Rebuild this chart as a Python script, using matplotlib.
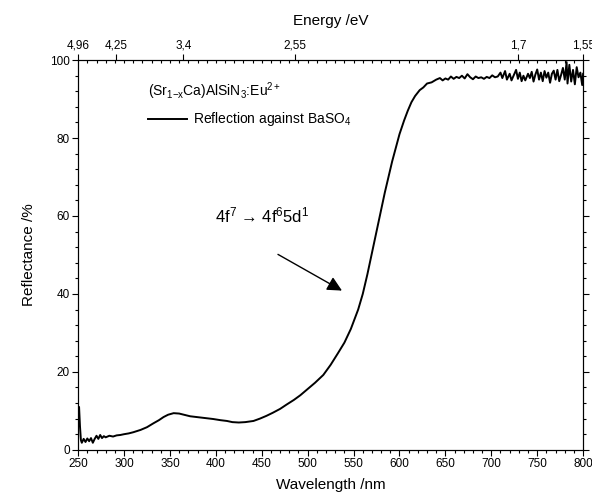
#/usr/bin/env python
'''
Reflectance spectrum of (Sr1-xCa)AlSiN3:Eu2+ against BaSO4
'''

import matplotlib
matplotlib.use('Agg')
import matplotlib.pyplot as plt
from matplotlib.ticker import MultipleLocator, FixedLocator

plt.rcParams['font.family'] = ['Liberation Sans', 'DejaVu Sans']
plt.rcParams['mathtext.fontset'] = 'custom'
plt.rcParams['mathtext.rm'] = 'Liberation Sans'
plt.rcParams['mathtext.it'] = 'Liberation Sans'

# wavelength /nm and reflectance /%
wavelength = [250, 251, 252, 253, 254, 256, 258, 260, 262, 264, 266, 268, 270, 272, 274,
              276, 278, 280, 284, 288, 292, 296, 300,
              305, 310, 318, 325, 332, 338, 343, 348, 354, 360, 365, 372, 383, 390, 397,
              405, 412, 418, 425, 432, 441, 448, 455, 462, 470, 477, 485, 492, 499, 508,
              517, 525, 533, 540, 547, 555, 560, 565, 570, 575, 580, 584, 588, 592, 596,
              600, 605, 609, 613, 617, 622, 626, 630, 635, 640,
              644, 647, 650, 653, 656, 659, 662, 665, 668, 671, 674, 677, 680, 683, 686,
              689, 692, 695, 698, 701, 704, 707, 710, 712, 715, 717, 720, 722, 725, 727,
              729, 731, 733, 735, 737, 740, 742, 744, 746, 748, 750, 752, 754, 756, 758,
              760, 762, 764, 766, 768, 770, 772, 774, 776, 778, 780, 782, 783, 785, 787,
              789, 791, 793, 795, 797, 799, 800]
reflectance = [10.5, 11.0, 6.0, 2.5, 1.8, 2.8, 2.0, 2.9, 2.2, 3.0, 1.8, 2.8, 3.6, 2.8, 3.8,
               3.0, 3.5, 3.2, 3.6, 3.4, 3.7, 3.8, 4.0,
               4.2, 4.5, 5.1, 5.8, 6.8, 7.6, 8.4, 9.0, 9.4, 9.3, 9.0, 8.6, 8.3, 8.1, 7.9,
               7.6, 7.4, 7.1, 7.0, 7.1, 7.4, 8.0, 8.7, 9.5, 10.5, 11.6, 12.8, 14.0, 15.4, 17.2,
               19.2, 21.8, 24.8, 27.5, 31.0, 36.0, 40.0, 45.0, 50.5, 56.0, 61.5, 66.0, 70.0, 74.0, 77.5,
               81.0, 84.5, 87.0, 89.2, 90.8, 92.3, 93.0, 94.0, 94.3, 95.0,
               95.4, 94.8, 95.3, 95.0, 95.8, 95.2, 95.7, 95.4, 96.0, 95.3, 96.4, 95.6, 95.1, 95.8, 95.4,
               95.6, 95.2, 95.7, 95.4, 96.1, 95.6, 95.8, 96.8, 95.4, 97.2, 95.0, 96.5, 94.8, 96.4, 97.5,
               95.2, 96.8, 94.6, 96.0, 94.8, 96.5, 95.4, 97.0, 94.5, 96.3, 97.6, 95.0, 96.8, 94.6, 97.2,
               95.5, 96.8, 94.2, 96.5, 97.3, 95.0, 97.5, 94.6, 96.2, 98.0, 95.0, 99.5, 94.0, 98.8, 94.5,
               97.5, 93.8, 98.2, 95.6, 96.8, 93.6, 96.5]

# top axis: photon energy /eV
energy_ticks = [4.96, 4.25, 3.4, 2.55, 1.7, 1.55]
energy_labels = ['4,96', '4,25', '3,4', '2,55', '1,7', '1,55']


def main():
    fig = plt.figure(figsize=(5.92, 4.97), dpi=100)
    ax = fig.add_axes([0.132, 0.095, 0.853, 0.784])

    ax.plot(wavelength, reflectance, color='black', lw=1.4,
            label='Reflection against BaSO$_4$')

    ax.set_xlim(250, 800)
    ax.set_ylim(0, 100)
    ax.xaxis.set_major_locator(MultipleLocator(50))
    ax.xaxis.set_minor_locator(MultipleLocator(10))
    ax.yaxis.set_major_locator(MultipleLocator(20))
    ax.yaxis.set_minor_locator(MultipleLocator(4))
    ax.tick_params(which='both', direction='out', labelsize=8.5, width=0.8,
                   right=True, pad=2)
    ax.tick_params(which='major', length=4)
    ax.tick_params(which='minor', length=2)
    ax.set_xlabel('Wavelength /nm', fontsize=11, labelpad=6)
    ax.set_ylabel('Reflectance /%', fontsize=11, labelpad=10)
    for sp in ax.spines.values():
        sp.set_linewidth(0.8)

    # energy axis on top
    top = ax.twiny()
    top.set_xlim(ax.get_xlim())
    top.xaxis.set_major_locator(FixedLocator([1240.0 / e for e in energy_ticks]))
    top.set_xticklabels(energy_labels)
    top.xaxis.set_minor_locator(MultipleLocator(10))
    top.tick_params(which='major', direction='out', length=4, width=0.8,
                    labelsize=8.5, pad=2)
    top.tick_params(which='minor', direction='in', length=2, width=0.8)
    top.set_xlabel('Energy /eV', fontsize=11, labelpad=11)

    ax.legend(title='(Sr$_{1\\mathrm{-}x}$Ca)AlSiN$_3$:Eu$^{2+}$',
              loc='upper left', bbox_to_anchor=(0.128, 0.962),
              frameon=False, fontsize=10, title_fontsize=10,
              alignment='left', handlelength=2.8, handletextpad=0.4,
              labelspacing=0.6, borderaxespad=0)

    ax.annotate('', xy=(540, 40.5), xytext=(465, 50.5),
                arrowprops=dict(arrowstyle='-|>', color='black', lw=1.0,
                                mutation_scale=22))
    ax.text(399, 58.3, '4f$^7$ \u2192 4f$^6$5d$^1$', fontsize=12)

    fig.savefig('out.png', dpi=100)
    plt.close(fig)


if __name__ == '__main__':
    main()
